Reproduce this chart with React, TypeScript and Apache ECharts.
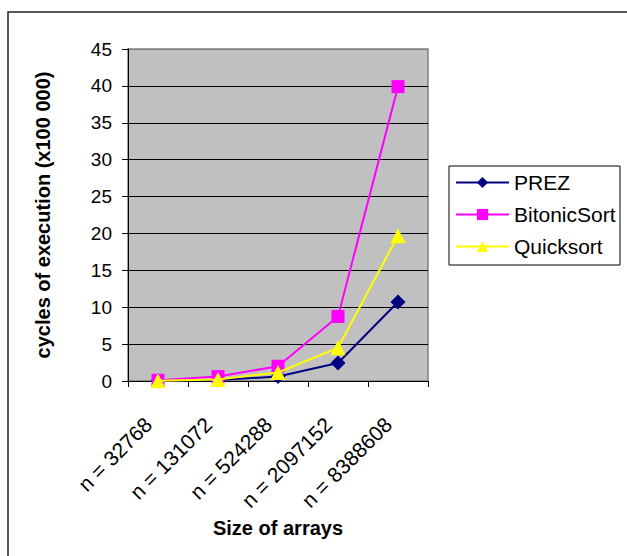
import React, { useEffect, useRef } from "react";
import * as echarts from "echarts";

const categories = ["n = 32768", "n = 131072", "n = 524288", "n = 2097152", "n = 8388608"];
const prezValues = [0.05, 0.15, 0.6, 2.45, 10.7];
const bitonicValues = [0.1, 0.6, 2.0, 8.75, 39.9];
const quicksortValues = [0.05, 0.2, 1.15, 4.5, 19.7];

const FONT = "'Liberation Sans', Arial, sans-serif";

export default function App() {
  const ref = useRef<HTMLDivElement>(null);
  useEffect(() => {
    if (!ref.current) return;
    const chart = echarts.init(ref.current, undefined, { renderer: "svg" });
    const splitColors = ["#000", "#000", "#000", "#000", "#000", "#000", "#000", "#000", "#000", "#808080"];
    chart.setOption({
      animation: false,
      backgroundColor: "#ffffff",
      textStyle: { fontFamily: FONT },
      grid: {
        left: 128,
        top: 49,
        width: 300,
        height: 332,
        show: true,
        backgroundColor: "#C0C0C0",
        borderColor: "#808080",
        borderWidth: 1.5,
        containLabel: false,
      },
      xAxis: {
        type: "category",
        data: categories,
        boundaryGap: true,
        name: "Size of arrays",
        nameLocation: "middle",
        nameGap: 131,
        nameTextStyle: { fontSize: 20, fontWeight: "bold", color: "#000", fontFamily: FONT },
        axisLine: { lineStyle: { color: "#000", width: 1 } },
        axisTick: { show: true, inside: false, length: 6, alignWithLabel: false, lineStyle: { color: "#000" } },
        axisLabel: {
          rotate: 45,
          fontSize: 21,
          color: "#000",
          margin: 30,
          padding: [0, 14, 0, 0],
          fontFamily: FONT,
          interval: 0,
        },
        splitLine: { show: false },
      },
      yAxis: {
        type: "value",
        min: 0,
        max: 45,
        interval: 5,
        name: "cycles of execution (x100 000)",
        nameLocation: "middle",
        nameGap: 75,
        nameTextStyle: { fontSize: 20, fontWeight: "bold", color: "#000", fontFamily: FONT },
        axisLine: { show: true, lineStyle: { color: "#000", width: 1 } },
        axisTick: { show: true, inside: false, length: 6, lineStyle: { color: "#000" } },
        axisLabel: { fontSize: 19, color: "#000", margin: 16, fontFamily: FONT },
        splitLine: { show: true, lineStyle: { color: splitColors, width: 1 } },
      },
      legend: {
        orient: "vertical",
        left: 455,
        top: 172,
        padding: 0,
        itemWidth: 53,
        itemHeight: 14,
        itemGap: 11,
        textStyle: { fontSize: 21, color: "#000", fontFamily: FONT },
        data: ["PREZ", "BitonicSort", "Quicksort"],
      },
      graphic: [
        {
          type: "rect",
          shape: { x: 8, y: 12, width: 700, height: 700 },
          style: { fill: "none", stroke: "#222", lineWidth: 1.5 },
          silent: true,
          z: -10,
        },
        {
          type: "rect",
          shape: { x: 449, y: 166, width: 171, height: 99 },
          style: { fill: "none", stroke: "#000", lineWidth: 1 },
          silent: true,
        },
      ],
      series: [
        {
          name: "PREZ",
          type: "line",
          data: prezValues,
          symbol: "diamond",
          symbolSize: 15,
          lineStyle: { color: "#000080", width: 2 },
          itemStyle: { color: "#000080" },
          z: 2,
        },
        {
          name: "BitonicSort",
          type: "line",
          data: bitonicValues,
          symbol: "rect",
          symbolSize: 13,
          lineStyle: { color: "#FF00FF", width: 2 },
          itemStyle: { color: "#FF00FF" },
          z: 3,
        },
        {
          name: "Quicksort",
          type: "line",
          data: quicksortValues,
          symbol: "triangle",
          symbolSize: 15,
          lineStyle: { color: "#FFFF00", width: 2 },
          itemStyle: { color: "#FFFF00" },
          z: 4,
        },
      ],
    });
    return () => chart.dispose();
  }, []);
  return (
    <div
      ref={ref}
      style={{ position: "absolute", left: 0, top: 0, width: 627, height: 556 }}
    />
  );
}
